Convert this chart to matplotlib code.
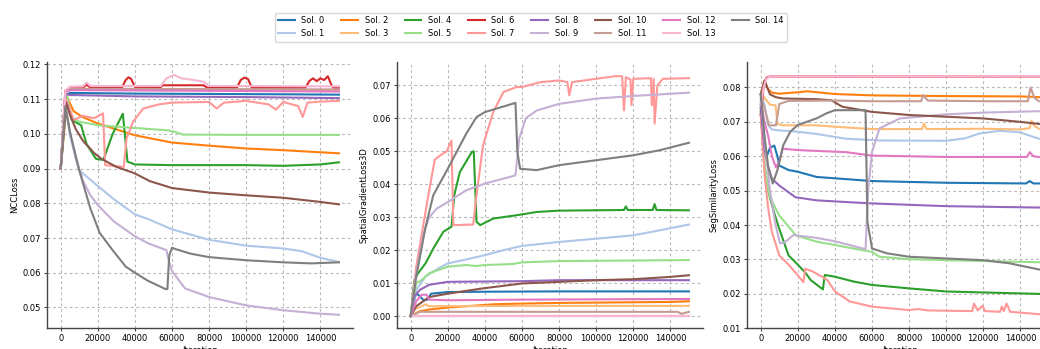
import numpy as np
import matplotlib
matplotlib.use("Agg")
import matplotlib.pyplot as plt

# ── Data (iteration, value) ───────────────────────────────────────────────────
LABELS = [f"Sol. {i}" for i in range(15)]

# NCCLoss
ncc_sol0 = [(0, 0.090), (2500, 0.1110), (5000, 0.1118), (40000, 0.1116), (80000, 0.1115), (120000, 0.1114), (150000, 0.1113)]
ncc_sol1 = [(0, 0.090), (2500, 0.1080), (5000, 0.0995), (10000, 0.0895), (16000, 0.0868), (20000, 0.0850), (28600, 0.0812),
            (40000, 0.0768), (47000, 0.0755), (60000, 0.0725), (80000, 0.0695), (100000, 0.0678), (120000, 0.0670),
            (130000, 0.0662), (140000, 0.0643), (150000, 0.0631)]
ncc_sol2 = [(0, 0.090), (3500, 0.1105), (7000, 0.1065), (12000, 0.1048), (20000, 0.1030), (30000, 0.1013), (40000, 0.0996),
            (60000, 0.0975), (80000, 0.0966), (100000, 0.0958), (120000, 0.0953), (150000, 0.0944)]
ncc_sol3 = [(0, 0.090), (2500, 0.1120), (5000, 0.1128), (150000, 0.1126)]
ncc_sol4 = [(0, 0.090), (3000, 0.1100), (6000, 0.1040), (11000, 0.1025), (14000, 0.0970), (19000, 0.0928), (23000, 0.0925),
            (28000, 0.1000), (33500, 0.1058), (36000, 0.0920), (40000, 0.0912), (60000, 0.0910), (100000, 0.0910),
            (120000, 0.0908), (140000, 0.0912), (150000, 0.0918)]
ncc_sol5 = [(0, 0.090), (3500, 0.1110), (6000, 0.1045), (10000, 0.1035), (20000, 0.1025), (40000, 0.1017), (58000, 0.1010),
            (62000, 0.1005), (66000, 0.0998), (100000, 0.0997), (150000, 0.0997)]
ncc_sol6 = [(0, 0.090), (2500, 0.1125), (5000, 0.1132), (12000, 0.1133), (14000, 0.1142), (16000, 0.1133), (33000, 0.1133),
            (35000, 0.1155), (36500, 0.1163), (38000, 0.1158), (40000, 0.1135), (54000, 0.1135), (55000, 0.1140),
            (77000, 0.1140), (79000, 0.1133), (95000, 0.1133), (97000, 0.1155), (99000, 0.1162), (101000, 0.1158),
            (103000, 0.1133), (132000, 0.1133), (134000, 0.1152), (136000, 0.1160), (138000, 0.1152), (140000, 0.1160),
            (142000, 0.1155), (144000, 0.1166), (146000, 0.1140), (147000, 0.1133), (150000, 0.1133)]
ncc_sol7 = [(0, 0.090), (3000, 0.1100), (7000, 0.1040), (12000, 0.1052), (18000, 0.1045), (22800, 0.1059), (24000, 0.0910),
            (34000, 0.0905), (35500, 0.0987), (39000, 0.1035), (44500, 0.1073), (53000, 0.1085), (60000, 0.1090),
            (80000, 0.1092), (84000, 0.1073), (88000, 0.1090), (100000, 0.1095), (112000, 0.1085), (116000, 0.1070),
            (120000, 0.1092), (128000, 0.1080), (130500, 0.1049), (133000, 0.1090), (140000, 0.1093), (150000, 0.1095)]
ncc_sol8 = [(0, 0.090), (2500, 0.1115), (5000, 0.1112), (40000, 0.1108), (100000, 0.1106), (150000, 0.1103)]
ncc_sol9 = [(0, 0.090), (2500, 0.1085), (5000, 0.1005), (8000, 0.0930), (12000, 0.0865), (16000, 0.0823), (20000, 0.0795),
            (28600, 0.0748), (40000, 0.0705), (47000, 0.0685), (57000, 0.0665), (58000, 0.0640), (60000, 0.0605),
            (67000, 0.0555), (80000, 0.0530), (100000, 0.0506), (120000, 0.0492), (140000, 0.0482), (150000, 0.0479)]
ncc_sol10 = [(0, 0.090), (3000, 0.1090), (5000, 0.1055), (8000, 0.1015), (12000, 0.0980), (18000, 0.0945), (22000, 0.0928),
             (30000, 0.0905), (38000, 0.0890), (40000, 0.0886), (48000, 0.0864), (60000, 0.0844), (80000, 0.0831),
             (100000, 0.0823), (120000, 0.0816), (140000, 0.0804), (150000, 0.0797)]
ncc_sol11 = [(0, 0.090), (2500, 0.1120), (5000, 0.1130), (150000, 0.1128)]
ncc_sol12 = [(0, 0.090), (2500, 0.1120), (5000, 0.1126), (150000, 0.1122)]
ncc_sol13 = [(0, 0.090), (2500, 0.1125), (5000, 0.1136), (12000, 0.1137), (14000, 0.1148), (16000, 0.1138), (54000, 0.1138),
             (57000, 0.1160), (61000, 0.1170), (65000, 0.1160), (72000, 0.1155), (77000, 0.1150), (80000, 0.1138),
             (150000, 0.1137)]
ncc_sol14 = [(0, 0.090), (2500, 0.1080), (5000, 0.1005), (10000, 0.0895), (16000, 0.0785), (21000, 0.0715), (28000, 0.0665),
             (35000, 0.0618), (40000, 0.0600), (47000, 0.0577), (56500, 0.0553), (57500, 0.0553), (58500, 0.0650),
             (60000, 0.0672), (62000, 0.0668), (70000, 0.0655), (80000, 0.0645), (100000, 0.0636), (120000, 0.0630),
             (135000, 0.0627), (150000, 0.0630)]

# SpatialGradientLoss3D
grad_sol0 = [(0, 0.0), (2000, 0.0050), (3000, 0.0070), (5000, 0.0060), (7000, 0.0048), (9000, 0.0050), (11000, 0.0068),
             (20000, 0.0073), (40000, 0.0074), (80000, 0.0075), (150000, 0.0075)]
grad_sol1 = [(0, 0.0), (3000, 0.0080), (8000, 0.0120), (15000, 0.0145), (20000, 0.0160), (30000, 0.0172), (40000, 0.0185),
             (50000, 0.0200), (60000, 0.0213), (80000, 0.0225), (100000, 0.0235), (120000, 0.0245), (134000, 0.0260),
             (150000, 0.0278)]
grad_sol2 = [(0, 0.0), (5000, 0.0015), (10000, 0.0020), (20000, 0.0026), (30000, 0.0030), (45000, 0.0036), (60000, 0.0038),
             (80000, 0.0040), (100000, 0.0041), (140000, 0.0043), (150000, 0.0045)]
grad_sol3 = [(0, 0.0), (2000, 0.0020), (6000, 0.0030), (8000, 0.0036), (10000, 0.0030), (60000, 0.0031), (150000, 0.0031)]
grad_sol4 = [(0, 0.0), (2000, 0.0110), (4000, 0.0130), (8000, 0.0160), (12200, 0.0205), (17600, 0.0256), (22000, 0.0271),
             (23500, 0.0367), (26500, 0.0437), (33000, 0.0498), (34000, 0.0500), (35500, 0.0286), (37500, 0.0276),
             (44500, 0.0296), (57000, 0.0306), (68000, 0.0316), (80000, 0.0320), (115000, 0.0322), (116000, 0.0333),
             (117000, 0.0322), (130500, 0.0322), (131500, 0.0340), (132500, 0.0322), (150000, 0.0321)]
grad_sol5 = [(0, 0.0), (3000, 0.0100), (6000, 0.0110), (10000, 0.0130), (20000, 0.0150), (30000, 0.0155), (35000, 0.0152),
             (40000, 0.0155), (55000, 0.0158), (60000, 0.0163), (80000, 0.0167), (150000, 0.0170)]
grad_sol6 = [(0, 0.0), (150000, 0.0)]
grad_sol7 = [(0, 0.0), (3000, 0.0150), (6000, 0.0250), (9000, 0.0350), (13000, 0.0475), (16000, 0.0488), (19400, 0.0500),
             (22000, 0.0533), (23000, 0.0276), (33700, 0.0278), (35500, 0.0367), (39000, 0.0518), (44500, 0.0619),
             (50000, 0.0680), (57000, 0.0695), (60000, 0.0695), (70000, 0.0710), (80000, 0.0715), (84500, 0.0710),
             (85500, 0.0670), (87000, 0.0710), (100000, 0.0720), (110000, 0.0728), (114000, 0.0728), (115000, 0.0624),
             (116000, 0.0725), (118500, 0.0718), (119000, 0.0640), (120000, 0.0720), (129500, 0.0722), (130000, 0.0640),
             (131000, 0.0720), (131500, 0.0584), (133000, 0.0700), (136000, 0.0720), (150000, 0.0722)]
grad_sol8 = [(0, 0.0), (2000, 0.0060), (5000, 0.0080), (10000, 0.0095), (20000, 0.0104), (60000, 0.0106), (80000, 0.0109),
             (150000, 0.0109)]
grad_sol9 = [(0, 0.0), (3000, 0.0130), (7000, 0.0250), (10000, 0.0300), (14000, 0.0326), (20000, 0.0346), (30000, 0.0382),
             (40000, 0.0402), (56500, 0.0427), (58500, 0.0538), (62000, 0.0600), (68000, 0.0624), (80000, 0.0644),
             (100000, 0.0660), (120000, 0.0668), (150000, 0.0678)]
grad_sol10 = [(0, 0.0), (3000, 0.0030), (10000, 0.0058), (20000, 0.0068), (38700, 0.0084), (60000, 0.0099), (80000, 0.0104),
              (100000, 0.0109), (120000, 0.0112), (140000, 0.0119), (150000, 0.0124)]
grad_sol11 = [(0, 0.0), (5000, 0.0013), (20000, 0.0013), (144000, 0.0013), (146000, 0.0007), (148000, 0.0010), (150000, 0.0013)]
grad_sol12 = [(0, 0.0), (3000, 0.0045), (6000, 0.0065), (8500, 0.0065), (10000, 0.0050), (20000, 0.0048), (60000, 0.0050),
              (150000, 0.0052)]
grad_sol13 = [(0, 0.0), (150000, 0.0)]
grad_sol14 = [(0, 0.0), (3000, 0.0120), (8000, 0.0270), (12200, 0.0367), (20000, 0.0447), (30000, 0.0554), (35500, 0.0604),
              (40000, 0.0619), (56500, 0.0647), (57500, 0.0500), (59000, 0.0447), (68000, 0.0443), (80000, 0.0458),
              (100000, 0.0473), (120000, 0.0488), (134000, 0.0503), (150000, 0.0526)]

# SegSimilarityLoss
seg_sol0 = [(0, 0.0750), (2000, 0.0630), (3500, 0.0603), (5000, 0.0625), (7300, 0.0631), (9000, 0.0600), (10000, 0.0573),
            (15000, 0.0560), (20000, 0.0555), (30000, 0.0540), (40000, 0.0536), (60000, 0.0528), (100000, 0.0523),
            (143000, 0.0521), (145000, 0.0528), (147000, 0.0521), (150000, 0.0521)]
seg_sol1 = [(0, 0.0780), (2000, 0.0750), (4000, 0.0690), (6000, 0.0678), (10000, 0.0675), (19000, 0.0672), (30000, 0.0665),
            (46000, 0.0651), (64000, 0.0646), (100000, 0.0645), (110000, 0.0652), (117800, 0.0666), (128600, 0.0674),
            (139500, 0.0670), (150000, 0.0651)]
seg_sol2 = [(0, 0.0780), (2000, 0.0820), (4000, 0.0795), (6000, 0.0785), (10000, 0.0782), (20000, 0.0786), (25000, 0.0789),
            (40000, 0.0781), (60000, 0.0777), (100000, 0.0775), (140000, 0.0774), (150000, 0.0772)]
seg_sol3 = [(0, 0.0780), (2000, 0.0770), (5000, 0.0750), (8000, 0.0748), (9000, 0.0694), (12000, 0.0690), (20000, 0.0690),
            (30000, 0.0690), (40000, 0.0686), (60000, 0.0679), (87000, 0.0679), (88000, 0.0695), (89500, 0.0679),
            (120000, 0.0680), (140000, 0.0678), (145000, 0.0682), (146000, 0.0703), (147500, 0.0688), (150000, 0.0680)]
seg_sol4 = [(0, 0.0730), (2000, 0.0570), (4000, 0.0500), (7000, 0.0440), (10000, 0.0389), (15000, 0.0312), (20000, 0.0285),
            (24000, 0.0262), (27000, 0.0240), (33500, 0.0213), (34500, 0.0255), (40000, 0.0250), (50000, 0.0236),
            (60000, 0.0226), (80000, 0.0216), (100000, 0.0207), (150000, 0.0200)]
seg_sol5 = [(0, 0.0740), (2000, 0.0580), (4000, 0.0500), (6000, 0.0470), (10000, 0.0428), (19000, 0.0370), (30000, 0.0352),
            (40000, 0.0342), (55000, 0.0327), (60000, 0.0322), (64000, 0.0308), (80000, 0.0301), (100000, 0.0298),
            (150000, 0.0292)]
seg_sol6 = [(0, 0.0720), (1500, 0.0800), (3000, 0.0828), (5000, 0.0832), (150000, 0.0832)]
seg_sol7 = [(0, 0.0720), (2000, 0.0550), (4000, 0.0450), (6000, 0.0380), (10000, 0.0312), (15000, 0.0285), (19000, 0.0260),
            (23000, 0.0234), (24000, 0.0273), (28000, 0.0265), (33000, 0.0250), (36000, 0.0240), (40000, 0.0207),
            (48000, 0.0178), (60000, 0.0163), (80000, 0.0153), (85000, 0.0156), (90000, 0.0152), (114000, 0.0150),
            (115000, 0.0172), (117000, 0.0152), (119500, 0.0165), (121000, 0.0150), (129000, 0.0148), (130000, 0.0163),
            (131000, 0.0150), (132500, 0.0172), (134500, 0.0148), (150000, 0.0141)]
seg_sol8 = [(0, 0.0740), (2000, 0.0620), (4000, 0.0570), (6000, 0.0535), (10000, 0.0515), (18700, 0.0481), (30000, 0.0472),
            (46000, 0.0467), (60000, 0.0463), (100000, 0.0455), (150000, 0.0451)]
seg_sol9 = [(0, 0.0780), (2000, 0.0650), (5000, 0.0500), (8000, 0.0400), (10400, 0.0347), (13000, 0.0350), (17600, 0.0371),
            (30000, 0.0363), (40000, 0.0353), (56500, 0.0330), (58000, 0.0507), (60000, 0.0613), (64000, 0.0681),
            (75000, 0.0710), (100000, 0.0722), (120000, 0.0727), (150000, 0.0731)]
seg_sol10 = [(0, 0.0780), (2000, 0.0820), (5000, 0.0780), (8000, 0.0772), (12000, 0.0768), (30000, 0.0766), (38000, 0.0763),
             (44000, 0.0744), (60000, 0.0729), (80000, 0.0720), (100000, 0.0715), (120000, 0.0710), (140000, 0.0700),
             (150000, 0.0694)]
seg_sol11 = [(0, 0.0770), (2000, 0.0740), (4500, 0.0690), (8200, 0.0690), (10000, 0.0752), (15000, 0.0761), (40000, 0.0762),
             (60000, 0.0760), (86500, 0.0760), (87500, 0.0778), (90000, 0.0762), (120000, 0.0760), (144000, 0.0760),
             (145500, 0.0800), (147500, 0.0770), (150000, 0.0760)]
seg_sol12 = [(0, 0.0760), (2000, 0.0700), (4000, 0.0660), (6000, 0.0600), (8200, 0.0568), (10000, 0.0585), (11800, 0.0622),
             (20000, 0.0618), (46000, 0.0612), (60000, 0.0602), (100000, 0.0598), (143500, 0.0598), (145000, 0.0612),
             (147000, 0.0600), (150000, 0.0598)]
seg_sol13 = [(0, 0.0750), (1500, 0.0800), (3000, 0.0825), (5000, 0.0832), (150000, 0.0833)]
seg_sol14 = [(0, 0.0780), (2000, 0.0660), (4000, 0.0570), (6500, 0.0521), (9000, 0.0560), (12200, 0.0633), (16000, 0.0672),
             (20000, 0.0691), (30000, 0.0710), (35500, 0.0725), (40000, 0.0734), (56500, 0.0734), (57500, 0.0410),
             (60000, 0.0332), (68000, 0.0318), (80000, 0.0308), (100000, 0.0303), (120000, 0.0298), (134000, 0.0289),
             (150000, 0.0271)]

NCC = [ncc_sol0, ncc_sol1, ncc_sol2, ncc_sol3, ncc_sol4, ncc_sol5, ncc_sol6, ncc_sol7,
       ncc_sol8, ncc_sol9, ncc_sol10, ncc_sol11, ncc_sol12, ncc_sol13, ncc_sol14]
GRAD = [grad_sol0, grad_sol1, grad_sol2, grad_sol3, grad_sol4, grad_sol5, grad_sol6, grad_sol7,
        grad_sol8, grad_sol9, grad_sol10, grad_sol11, grad_sol12, grad_sol13, grad_sol14]
SEG = [seg_sol0, seg_sol1, seg_sol2, seg_sol3, seg_sol4, seg_sol5, seg_sol6, seg_sol7,
       seg_sol8, seg_sol9, seg_sol10, seg_sol11, seg_sol12, seg_sol13, seg_sol14]

PANELS = [
    (NCC, "NCCLoss", (0.0440, 0.1207)),
    (GRAD, "SpatialGradientLoss3D", (-0.0037, 0.0771)),
    (SEG, "SegSimilarityLoss", (0.0100, 0.0874)),
]

COLORS = plt.cm.tab20.colors

# ── Figure ────────────────────────────────────────────────────────────────────
fig = plt.figure(figsize=(10.40, 3.49), dpi=100)

lefts = [0.0450, 0.3815, 0.7181]
for left, (series, ylabel, ylim) in zip(lefts, PANELS):
    ax = fig.add_axes([left, 0.0593, 0.2943, 0.763])
    for i, pts in enumerate(series):
        it, val = np.array(pts).T
        ax.plot(it, val, color=COLORS[i], lw=1.5, label=LABELS[i])
    ax.set_xlim(-7500, 157500)
    ax.set_ylim(*ylim)
    ax.set_xticks(np.arange(0, 140001, 20000))
    ax.grid(True, color="#b8b8b8", ls=(0, (2.5, 2.5)), lw=0.8)
    ax.spines[["top", "right"]].set_visible(False)
    for s in ("left", "bottom"):
        ax.spines[s].set_color("#444444")
        ax.spines[s].set_linewidth(1.0)
    ax.tick_params(labelsize=6, length=2.5, pad=1.8, color="#444444")
    ax.set_ylabel(ylabel, fontsize=6, labelpad=2.5)
    ax.set_xlabel("Iteration", fontsize=6, labelpad=2)

handles, labels = ax.get_legend_handles_labels()
fig.legend(handles, labels, loc="upper center", bbox_to_anchor=(0.5105, 0.975),
           ncol=8, fontsize=6, frameon=True)

fig.savefig("out.png", dpi=100)
